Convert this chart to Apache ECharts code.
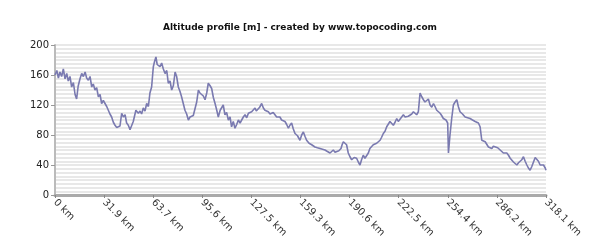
<!DOCTYPE html>
<html>
<head>
<meta charset="utf-8">
<script src="https://cdn.jsdelivr.net/npm/echarts@6/dist/echarts.min.js"></script>
<style>html,body{margin:0;padding:0;background:#fff}#c{width:600px;height:250px}</style>
</head>
<body>
<div id="c"></div>
<script>
var chartTitle = 'Altitude profile [m] - created by www.topocoding.com';
var tickLabels = ['0 km','31.9 km','63.7 km','95.6 km','127.5 km','159.3 km','190.6 km','222.5 km','254.4 km','286.2 km','318.1 km'];
var yTicks = [0, 40, 80, 120, 160, 200];
var distanceKm = [
 0,1.2,2.2,3.2,4.3,5.4,6.5,7.6,8.6,9.7,10.8,11.9,13,14,15,16.2,17.3,18.4,19.5,20.5,21.6,22.7,23.8,24.8,25.9,27,28.1,29.2,30.2,31.3,32.4,33.5,34.6,35.6,36.7,37.8,38.9,40,41,42.1,43.2,44.3,45.4,46.4,47.5,48.6,49.7,50.7,52.4,54,55.1,56.1,57.2,58.3,59.4,60.5,61.5,62.6,63.7,64.5,65.4,66.2,66.9,68,69.1,70.2,71.3,72.4,73.4,74.5,75.6,76.7,77.8,78.8,79.9,81,82,83.1,84.2,85.3,86.4,87.5,88.5,89.6,90.7,91.8,92.9,93.9,95,96.1,97.2,98.3,99.3,100.4,101.5,102.6,103.7,104.8,105.8,107,108,109,110.1,111.2,112.3,113.4,114.4,115.5,116.6,117.7,118.8,119.9,121,122,123.1,124.2,125.3,126.3,127.4,128.5,129.6,130.4,131.3,132.6,133.9,135,136,137.1,138.2,139.3,140.4,141.4,142.5,143.6,144.7,145.7,146.8,147.9,149,150.1,151.2,152.2,153.3,154.4,155.5,157.1,158.7,159.8,160.9,162,163,164.6,166.3,167.3,168.4,170,171.7,173.3,174.9,176.5,178.2,179.2,180.3,181.4,182.5,183.9,185.3,186,186.8,187.9,188.9,190,191.1,192.2,193.8,195.4,196.5,197.6,198.6,199.7,200.8,201.9,203,204,205.1,206.2,207.3,208.4,209.4,210.6,211.6,212.7,213.8,214.9,216,217,218.1,219.2,220.3,221.4,222.4,223.5,224.6,225.7,226.8,227.9,228.9,230,231.1,232.2,233.3,234.3,235.4,236.5,237.6,238.7,239.7,240.8,241.9,243,244.1,245.2,246.2,247.3,248.4,249.5,250.5,251.6,252.7,253.3,253.8,254.4,254.9,255.9,257,258.1,259.2,260.3,261.3,262.4,264,265.7,267.3,268.9,270.5,272.2,273.3,274.3,275.4,276.5,277.6,278.7,279.7,280.8,281.9,283,284,285.1,286.8,288.4,289.5,290.5,291.6,292.7,293.8,294.9,295.9,297,298.1,299.2,300.3,301.4,302.4,303.5,304.6,305.7,306.7,307.8,308.9,310,311.1,312.2,313.2,314.3,315.4,316.5,317.6,318.1
];
var altitudeM = [
 160,166,156,164,158,168,155,162,152,158,144,150,134,128,145,155,162,158,164,156,153,158,144,148,140,143,131,134,122,126,127,118,116,108,104,97,93,90,89,92,109,104,107,96,93,87,89,98,113,109,112,108,116,112,122,118,136,144,171,178,184,174,173,171,176,168,162,166,149,152,140,146,164,158,144,138,131,122,113,108,100,104,102,106,107,124,140,136,138,132,127,136,149,146,142,130,122,113,104,113,113,120,107,110,100,104,91,98,89,94,100,96,98,104,107,103,109,107,111,109,116,112,113,117,122,116,113,115,111,108,107,110,111,104,102,104,100,101,98,94,89,93,96,88,82,79,73,80,84,78,73,69,67,66,64,63,62,61,60,58,56,58,60,57,56,59,62,67,71,69,67,56,51,47,50,49,44,40,47,53,49,51,56,62,64,67,68,69,71,73,77,82,85,91,93,98,96,93,97,102,98,100,104,107,104,102,105,107,108,111,109,107,111,136,131,127,124,122,128,120,117,122,118,113,111,109,106,102,104,100,98,96,56,80,102,120,124,127,118,111,108,104,103,102,100,98,97,96,91,73,74,71,69,64,66,62,65,67,63,60,58,56,57,56,53,49,47,44,42,40,43,42,47,51,45,40,36,33,38,44,50,51,45,40,42,40,36,33,31,33
];

var chart = echarts.init(document.getElementById('c'), null, {renderer: 'canvas'});
var pts = distanceKm.map(function (d, i) { return [d, altitudeM[i]]; });
var step = distanceKm[distanceKm.length - 1] / (tickLabels.length - 1);
chart.setOption({
  animation: false,
  backgroundColor: '#ffffff',
  title: {
    text: chartTitle,
    left: 'center',
    top: 18,
    textStyle: {fontFamily: 'DejaVu Sans', fontSize: 9, fontWeight: 'bold', color: '#111'}
  },
  grid: {left: 55, right: 54, top: 45, bottom: 55, containLabel: false},
  xAxis: {
    type: 'value',
    min: 0,
    max: distanceKm[distanceKm.length - 1],
    interval: step,
    axisLine: {show: true, lineStyle: {color: '#aaaaaa', width: 3}},
    axisTick: {show: true, length: 3, lineStyle: {color: '#888'}},
    splitLine: {show: false},
    axisLabel: {
      rotate: -45,
      fontFamily: 'DejaVu Sans',
      fontSize: 10,
      color: '#333',
      margin: 6,
      showMaxLabel: true,
      formatter: function (v) { return tickLabels[Math.round(v / step)] || ''; }
    }
  },
  yAxis: {
    type: 'value',
    min: yTicks[0],
    max: yTicks[yTicks.length - 1],
    interval: 40,
    axisLine: {show: true, lineStyle: {color: '#bbbbbb', width: 2}},
    axisTick: {show: true, length: 4, lineStyle: {color: '#999'}},
    axisLabel: {fontFamily: 'DejaVu Sans', fontSize: 10, color: '#222', margin: 6},
    splitLine: {show: true, lineStyle: {color: '#e8e8e8', width: 2}},
    minorTick: {show: false, splitNumber: 8},
    minorSplitLine: {show: true, lineStyle: {color: '#e8e8e8', width: 2}}
  },
  series: [{
    type: 'line',
    data: pts,
    showSymbol: false,
    lineStyle: {color: '#7a7ab0', width: 1.6},
    z: 3
  }]
});
</script>
</body>
</html>
